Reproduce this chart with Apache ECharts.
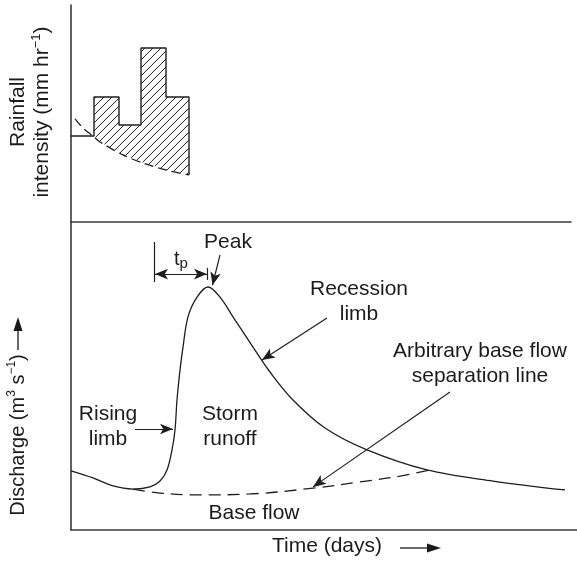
<!DOCTYPE html>
<html><head><meta charset="utf-8">
<script src="https://cdn.jsdelivr.net/npm/echarts@6/dist/echarts.min.js"></script>
<style>html,body{margin:0;padding:0;background:#fff}#c{width:577px;height:562px}</style>
</head><body><div id="c"></div>
<script>
// ---------- Rainfall hyetograph (top panel) ----------
const rainEdges = [4.6, 9.6, 14.0, 19.0, 23.6];      // time at bar edges
const rainIntensity = [5.76, 4.47, 8.02, 5.76];      // bar heights
const preStormRain = 3.96;                            // level before the bars
const lossX = [0.8, 2.4, 4.4, 5.8, 10.4, 14.4, 19.8, 23.6];   // loss (infiltration) curve
const lossY = [4.75, 4.33, 3.96, 3.69, 3.09, 2.72, 2.35, 2.17];

// ---------- Discharge hydrograph (bottom panel) ----------
const hydroX = [0, 4.4, 8.4, 12.4, 15.8, 17.8, 19.2, 20.2, 20.8, 21.2, 21.8, 22.4, 23.4, 25.2, 27.4, 29.8, 32.4, 36.4, 39.8, 44.4, 50.8, 59.2, 71.2, 84.4, 98.8];
const hydroY = [1.92, 1.69, 1.43, 1.33, 1.40, 1.59, 1.95, 2.60, 3.25, 4.22, 5.19, 5.94, 6.92, 7.56, 7.89, 7.56, 6.92, 5.94, 5.13, 4.22, 3.31, 2.60, 1.95, 1.59, 1.30];
const baseX = [12.4, 17.8, 25.8, 35.8, 48.4, 57.8, 65.8, 71.8];
const baseY = [1.33, 1.20, 1.14, 1.17, 1.36, 1.56, 1.75, 1.95];

// annotation arrows (data units of discharge panel): [x1, y1, x2, y2, startSymbol, endSymbol]
const annotArrows = [
  [16.6, 9.35, 16.6, 8.05, 'none', 'none'],   // t_p left bar
  [27.2, 8.51, 27.2, 8.12, 'none', 'none'],   // t_p right tick
  [16.8, 8.31, 27.2, 8.31, 'arrow', 'arrow'], // t_p span
  [29.8, 8.93, 28.3, 7.95, 'none', 'arrow'],  // Peak
  [51.2, 6.88, 38.2, 5.52, 'none', 'arrow'],  // Recession limb
  [75.8, 4.48, 48.4, 1.40, 'none', 'arrow'],  // base flow separation line
  [12.8, 3.28, 20.4, 3.28, 'none', 'arrow']   // Rising limb
];

const FONT = '"Liberation Sans", Arial, Helvetica, sans-serif';
const TXT = '#1b1b1b';
const INK = '#1e1e1e';

const outline = [[0, preStormRain], [rainEdges[0], preStormRain]];
for (let i = 0; i < rainIntensity.length; i++) {
  outline.push([rainEdges[i], rainIntensity[i]], [rainEdges[i + 1], rainIntensity[i]]);
}
outline.push([rainEdges[rainEdges.length - 1], lossY[lossY.length - 1]]);

const axisCommon = {
  axisLine: {show: true, onZero: false, lineStyle: {color: '#3a3a3a', width: 1.6}},
  axisTick: {show: false}, axisLabel: {show: false}, splitLine: {show: false}
};

const chart = echarts.init(document.getElementById('c'), null, {renderer: 'canvas'});
const txt = (t, x, y) => ({
  type: 'text', x: x, y: y,
  style: {text: t, font: '21px ' + FONT, fill: TXT, align: 'center', verticalAlign: 'middle', lineHeight: 25}
});

// hatch lines ("/") between the bar tops and the loss curve, computed in pixel space
function hatchItem(params, api) {
  const edgesPx = rainEdges.map(x => api.coord([x, 0])[0]);
  const topPx = rainIntensity.map(v => api.coord([0, v])[1]);
  const lossPx = lossX.map((x, i) => api.coord([x, lossY[i]]));
  const topAt = px => {
    for (let i = 0; i < topPx.length; i++) if (px >= edgesPx[i] && px <= edgesPx[i + 1]) return topPx[i];
    return Infinity;
  };
  const bottomAt = px => {
    for (let i = 0; i < lossPx.length - 1; i++) {
      const a = lossPx[i], b = lossPx[i + 1];
      if (px >= a[0] && px <= b[0]) return a[1] + (b[1] - a[1]) * (px - a[0]) / (b[0] - a[0]);
    }
    return -Infinity;
  };
  const x0 = edgesPx[0], x1 = edgesPx[edgesPx.length - 1];
  const yTop = Math.min.apply(null, topPx), yBot = lossPx[lossPx.length - 1][1];
  const children = [];
  const seg = (a, b) => ({type: 'line', shape: {x1: a[0], y1: a[1], x2: b[0], y2: b[1]}, style: {stroke: '#222', lineWidth: 1}});
  const gap = 8, dx = 0.25, n = Math.floor((x1 - x0) / dx);
  for (let c = x0 + yTop + 3; c <= x1 + yBot; c += gap) {
    let start = null, prev = null;
    for (let k = 0; k <= n; k++) {
      const px = x0 + k * dx, py = c - px;
      const inside = py >= topAt(px) && py <= bottomAt(px);
      if (inside && !start) start = [px, py];
      if (!inside && start) { children.push(seg(start, prev)); start = null; }
      prev = [px, py];
    }
    if (start) children.push(seg(start, prev));
  }
  return {type: 'group', children: children};
}

chart.setOption({
  animation: false,
  backgroundColor: '#fff',
  grid: [
    {left: 71, top: 5, width: 500, height: 217},
    {left: 71, top: 222, width: 506, height: 308}
  ],
  xAxis: [
    Object.assign({type: 'value', gridIndex: 0, min: 0, max: 100}, axisCommon),
    Object.assign({type: 'value', gridIndex: 1, min: 0, max: 101.2}, axisCommon)
  ],
  yAxis: [
    Object.assign({type: 'value', gridIndex: 0, min: 0, max: 10}, axisCommon),
    Object.assign({type: 'value', gridIndex: 1, min: 0, max: 10}, axisCommon)
  ],
  series: [
    {
      type: 'custom', xAxisIndex: 0, yAxisIndex: 0, clip: false, silent: true, z: 1,
      data: [[0, 0]],
      renderItem: hatchItem
    },
    {
      type: 'line', xAxisIndex: 0, yAxisIndex: 0, data: outline, symbol: 'none', silent: true, z: 3,
      lineStyle: {color: INK, width: 1.4}
    },
    {
      type: 'line', xAxisIndex: 0, yAxisIndex: 0, symbol: 'none', silent: true, smooth: 0.3, z: 3,
      data: lossX.map((x, i) => [x, lossY[i]]),
      lineStyle: {color: INK, width: 1.3, type: [9, 5]}
    },
    {
      type: 'line', xAxisIndex: 1, yAxisIndex: 1, symbol: 'none', silent: true, smooth: 0.35,
      data: hydroX.map((x, i) => [x, hydroY[i]]),
      lineStyle: {color: INK, width: 1.3},
      markLine: {
        silent: true, animation: false, symbolSize: [8, 13],
        label: {show: false},
        lineStyle: {color: INK, width: 1.2, type: 'solid'},
        emphasis: {disabled: true},
        data: annotArrows.map(a => [
          {coord: [a[0], a[1]], symbol: a[4]},
          {coord: [a[2], a[3]], symbol: a[5]}
        ])
      }
    },
    {
      type: 'line', xAxisIndex: 1, yAxisIndex: 1, symbol: 'none', silent: true, smooth: 0.4,
      data: baseX.map((x, i) => [x, baseY[i]]),
      lineStyle: {color: INK, width: 1.3, type: [12, 7]}
    }
  ],
  graphic: [
    // y-axis titles
    {
      type: 'text', x: 30, y: 112, rotation: Math.PI / 2,
      style: {
        text: '{a|Rainfall}\n{a|intensity (mm hr}{s|−1}{a|)}',
        align: 'center', verticalAlign: 'middle', fill: TXT,
        rich: {
          a: {font: '21px ' + FONT, fill: TXT, lineHeight: 24, verticalAlign: 'middle'},
          s: {font: '13px ' + FONT, fill: TXT, verticalAlign: 'top'}
        }
      }
    },
    {
      type: 'text', x: 18, y: 435, rotation: Math.PI / 2,
      style: {
        text: '{a|Discharge (m}{s|3}{a| s}{s|−1}{a|)}',
        align: 'center', verticalAlign: 'middle', fill: TXT,
        rich: {
          a: {font: '20px ' + FONT, fill: TXT, lineHeight: 24, verticalAlign: 'middle'},
          s: {font: '12px ' + FONT, fill: TXT, verticalAlign: 'top'}
        }
      }
    },
    {type: 'line', shape: {x1: 18, y1: 350, x2: 18, y2: 328}, style: {stroke: TXT, lineWidth: 1.3}},
    {type: 'polygon', shape: {points: [[13.5, 331], [18, 317], [22.5, 331]]}, style: {fill: TXT}},
    // x-axis title
    txt('Time (days)', 327, 546),
    {type: 'line', shape: {x1: 400, y1: 548, x2: 430, y2: 548}, style: {stroke: TXT, lineWidth: 1.3}},
    {type: 'polygon', shape: {points: [[427, 543.5], [441, 548], [427, 552.5]]}, style: {fill: TXT}},
    // annotations
    {
      type: 'text', x: 181, y: 259,
      style: {
        text: '{t|t}{p|p}', align: 'center', verticalAlign: 'middle',
        rich: {
          t: {font: '20px ' + FONT, fill: TXT, lineHeight: 24, verticalAlign: 'middle'},
          p: {font: '15px ' + FONT, fill: TXT, verticalAlign: 'bottom'}
        }
      }
    },
    txt('Peak', 228, 242),
    txt('Recession\nlimb', 359, 302),
    txt('Arbitrary base flow\nseparation line', 480, 364),
    txt('Rising\nlimb', 108, 427),
    txt('Storm\nrunoff', 230, 427),
    txt('Base flow', 254, 513)
  ]
});
</script></body></html>
